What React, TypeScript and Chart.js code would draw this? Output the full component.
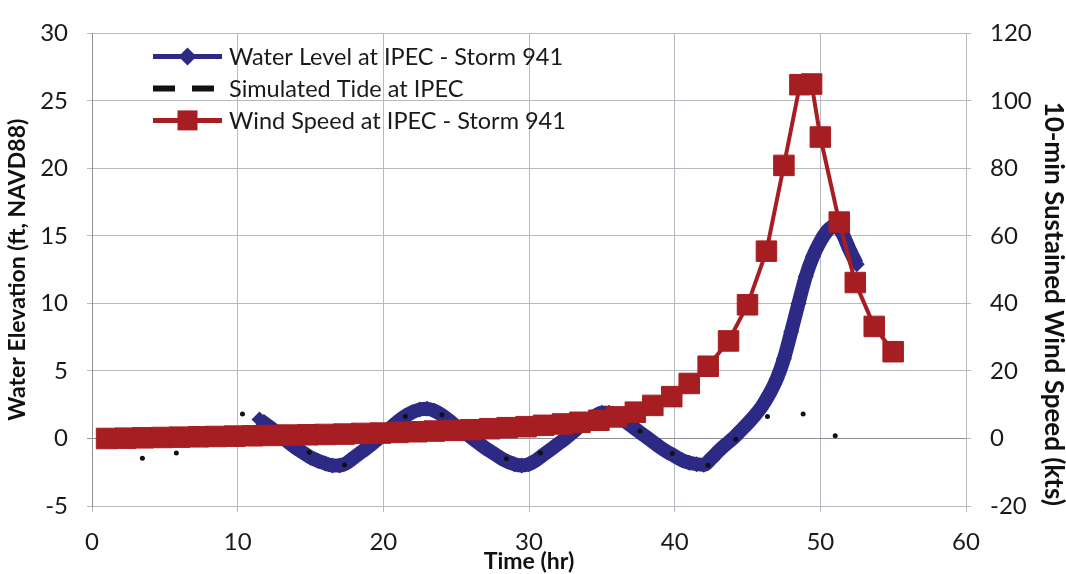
import React, { useEffect, useRef } from "react";
import { Chart, registerables } from "chart.js";

Chart.register(...registerables);

// ---- Data ----
const waterTime = [
  11.5, 12, 12.5, 13, 13.5, 14, 14.5, 15, 15.5, 16, 16.5, 17, 17.5, 18, 18.5, 19, 19.5, 20,
  20.5, 21, 21.5, 22, 22.5, 23, 23.5, 24, 24.5, 25, 25.5, 26, 26.5, 27, 27.5, 28, 28.5, 29,
  29.5, 30, 30.5, 31, 31.5, 32, 32.5, 33, 33.5, 34, 34.5, 35, 35.5, 36, 36.5, 37, 37.5, 38,
  38.5, 39, 39.5, 40, 40.5, 41, 41.5, 42, 42.5, 43, 43.5, 44, 44.5, 45, 45.5, 46, 46.5, 47,
  47.5, 48, 48.5, 49, 49.5, 50, 50.5, 51, 51.5, 52, 52.5,
];
const waterLevel = [
  1.4, 1.0, 0.6, 0.15, -0.3, -0.7, -1.05, -1.4, -1.65, -1.85, -2.0, -2.0, -1.8, -1.4, -1.0, -0.6, -0.15, 0.3,
  0.8, 1.25, 1.65, 1.95, 2.15, 2.2, 2.05, 1.75, 1.35, 0.9, 0.5, 0.1, -0.3, -0.7, -1.05, -1.4, -1.7, -1.9,
  -2.0, -1.9, -1.6, -1.2, -0.8, -0.4, 0.0, 0.45, 0.9, 1.3, 1.65, 1.9, 1.9, 1.7, 1.35, 0.95, 0.55, 0.15,
  -0.25, -0.65, -1.0, -1.3, -1.6, -1.8, -1.9, -1.95, -1.5, -0.95, -0.45, 0.0, 0.55, 1.1, 1.7, 2.4, 3.3, 4.4,
  5.9, 7.9, 10.0, 12.0, 13.5, 14.6, 15.4, 15.8, 15.2, 14.0, 12.9,
];

const tideTime = [3.46, 5.79, 10.33, 14.91, 17.34, 21.51, 24.03, 28.45, 30.79, 37.62, 39.84, 42.29, 44.19, 46.37, 48.82, 51.02];
const tideLevel = [-1.47, -1.07, 1.82, -1.02, -1.96, 1.63, 1.75, -1.5, -1.07, 0.55, -1.11, -1.98, -0.06, 1.63, 1.82, 0.21];

const windTime = [
  1.0, 2.3, 3.5, 4.8, 6.0, 7.3, 8.5, 9.8, 11.0, 12.3, 13.5, 14.8, 16.0, 17.3, 18.5, 19.8, 21.0, 22.3,
  23.5, 24.8, 26.0, 27.3, 28.5, 29.8, 31.0, 32.3, 33.5, 34.8, 36.0, 37.3, 38.5, 39.8, 41.0, 42.3, 43.7,
  45.0, 46.3, 47.5, 48.6, 49.4, 50.0, 51.3, 52.4, 53.7, 55.0,
];
const windSpeed = [
  0.0, 0.1, 0.2, 0.3, 0.4, 0.5, 0.6, 0.7, 0.8, 0.9, 1.0, 1.1, 1.2, 1.3, 1.5, 1.6, 1.8, 2.0,
  2.2, 2.4, 2.6, 2.9, 3.2, 3.5, 3.9, 4.3, 4.8, 5.4, 6.4, 7.8, 9.8, 12.4, 16.3, 21.4, 28.9,
  39.6, 55.5, 80.9, 104.8, 105.0, 89.3, 64.1, 46.2, 33.2, 25.7,
];

const xTicks = [0, 10, 20, 30, 40, 50, 60];
const leftTicks = [-5, 0, 5, 10, 15, 20, 25, 30];
const rightTicks = [-20, 0, 20, 40, 60, 80, 100, 120];

const seriesNames = [
  "Water Level at IPEC - Storm 941",
  "Simulated Tide at IPEC",
  "Wind Speed at IPEC - Storm 941",
];

const BLUE = "#2C2A85";
const RED = "#A61E22";
const BLACK = "#111111";
const GRID = "#B8B8C0";
const FONT = "Lato, 'Open Sans', sans-serif";
const TEXT = "#1a1a1a";

const legendPlugin = {
  id: "customLegend",
  afterDraw(chart: any) {
    const ctx = chart.ctx as CanvasRenderingContext2D;
    const area = chart.chartArea;
    const x0 = area.left + 61;
    const len = 69;
    const textX = x0 + 76;
    const rows = [area.top + 23, area.top + 55, area.top + 87];
    ctx.save();
    // row 1: water level
    ctx.strokeStyle = BLUE;
    ctx.lineWidth = 5;
    ctx.beginPath();
    ctx.moveTo(x0, rows[0]);
    ctx.lineTo(x0 + len, rows[0]);
    ctx.stroke();
    ctx.fillStyle = BLUE;
    const cx = x0 + len / 2;
    ctx.beginPath();
    ctx.moveTo(cx, rows[0] - 9);
    ctx.lineTo(cx + 9, rows[0]);
    ctx.lineTo(cx, rows[0] + 9);
    ctx.lineTo(cx - 9, rows[0]);
    ctx.closePath();
    ctx.fill();
    // row 2: tide dashes
    ctx.strokeStyle = BLACK;
    ctx.lineWidth = 6;
    ctx.beginPath();
    ctx.moveTo(x0, rows[1]);
    ctx.lineTo(x0 + 22, rows[1]);
    ctx.moveTo(x0 + 39, rows[1]);
    ctx.lineTo(x0 + 61, rows[1]);
    ctx.stroke();
    // row 3: wind
    ctx.strokeStyle = RED;
    ctx.lineWidth = 5;
    ctx.beginPath();
    ctx.moveTo(x0, rows[2]);
    ctx.lineTo(x0 + len, rows[2]);
    ctx.stroke();
    ctx.fillStyle = RED;
    ctx.fillRect(cx - 10, rows[2] - 10, 20, 20);
    // texts
    ctx.fillStyle = TEXT;
    ctx.font = `23.5px ${FONT}`;
    ctx.textBaseline = "middle";
    ctx.textAlign = "left";
    seriesNames.forEach((n, i) => ctx.fillText(n, textX, rows[i] + 1));
    ctx.restore();
  },
};

export default function App() {
  const canvasRef = useRef<HTMLCanvasElement | null>(null);

  useEffect(() => {
    const canvas = canvasRef.current;
    if (!canvas) return;
    const chart = new Chart(canvas, {
      type: "scatter",
      data: {
        datasets: [
          {
            label: seriesNames[0],
            data: waterTime.map((t, i) => ({ x: t, y: waterLevel[i] })),
            yAxisID: "y",
            showLine: true,
            borderColor: BLUE,
            backgroundColor: BLUE,
            borderWidth: 14,
            pointStyle: "rectRot",
            pointRadius: 8,
            pointBorderWidth: 0,
            tension: 0.4,
            cubicInterpolationMode: "monotone",
            order: 2,
          } as any,
          {
            label: seriesNames[1],
            data: tideTime.map((t, i) => ({ x: t, y: tideLevel[i] })),
            yAxisID: "y",
            showLine: false,
            borderColor: BLACK,
            backgroundColor: BLACK,
            pointRadius: 2.5,
            pointBorderWidth: 0,
            order: 1,
          },
          {
            label: seriesNames[2],
            data: windTime.map((t, i) => ({ x: t, y: windSpeed[i] })),
            yAxisID: "y2",
            showLine: true,
            borderColor: RED,
            backgroundColor: RED,
            borderWidth: 4,
            pointStyle: "rect",
            pointRadius: 14.5,
            pointBorderWidth: 1,
            pointBorderColor: RED,
            tension: 0,
            order: 0,
          } as any,
        ],
      },
      options: {
        responsive: false,
        animation: false,
        layout: { padding: { top: 22, left: 0, right: 0, bottom: 0 } },
        plugins: {
          legend: { display: false },
          tooltip: { enabled: false },
        },
        scales: {
          x: {
            type: "linear",
            min: 0,
            max: 60,
            afterBuildTicks: (s: any) => {
              s.ticks = xTicks.map((v) => ({ value: v }));
            },
            afterFit: (s: any) => {
              s.height = 68;
            },
            grid: { color: GRID, lineWidth: 1, drawTicks: true, tickLength: 6 },
            border: { color: GRID },
            ticks: { color: TEXT, font: { family: FONT, size: 24 }, padding: 16, maxRotation: 0 },
            title: {
              display: true,
              text: "Time (hr)",
              color: "#111",
              font: { family: FONT, size: 23, weight: "bold", lineHeight: 1.0 },
              padding: { top: 0, bottom: 1 },
            },
          },
          y: {
            type: "linear",
            position: "left",
            min: -5,
            max: 30,
            afterBuildTicks: (s: any) => {
              s.ticks = leftTicks.map((v) => ({ value: v }));
            },
            afterFit: (s: any) => {
              s.width = 92;
            },
            grid: {
              color: (c: any) => (c.tick && c.tick.value === 0 ? "#8E8E96" : GRID),
              lineWidth: 1,
              drawTicks: true,
              tickLength: 5,
            },
            border: { color: "#8E8E96" },
            ticks: { color: TEXT, font: { family: FONT, size: 24 }, padding: 19 },
            title: {
              display: true,
              text: "Water Elevation (ft, NAVD88)",
              color: "#111",
              font: { family: FONT, size: 23, weight: "bold", lineHeight: 1.0 },
              padding: { top: 6, bottom: 0 },
            },
          },
          y2: {
            type: "linear",
            position: "right",
            min: -20,
            max: 120,
            afterBuildTicks: (s: any) => {
              s.ticks = rightTicks.map((v) => ({ value: v }));
            },
            afterFit: (s: any) => {
              s.width = 100;
            },
            grid: { drawOnChartArea: false, color: GRID, drawTicks: true, tickLength: 5 },
            border: { color: GRID },
            ticks: { color: TEXT, font: { family: FONT, size: 24 }, padding: 19 },
            title: {
              display: true,
              text: "10-min Sustained Wind Speed (kts)",
              color: "#111",
              align: "start",
              font: { family: FONT, size: 26, weight: "bold", lineHeight: 1.0 },
              padding: { top: 0, bottom: 0 },
            },
          },
        },
      },
      plugins: [legendPlugin],
    });
    return () => chart.destroy();
  }, []);

  return (
    <div style={{ position: "fixed", left: 0, top: 0, width: 1066, height: 574, background: "#fff" }}>
      <canvas ref={canvasRef} width={1066} height={574} style={{ display: "block" }} />
    </div>
  );
}
